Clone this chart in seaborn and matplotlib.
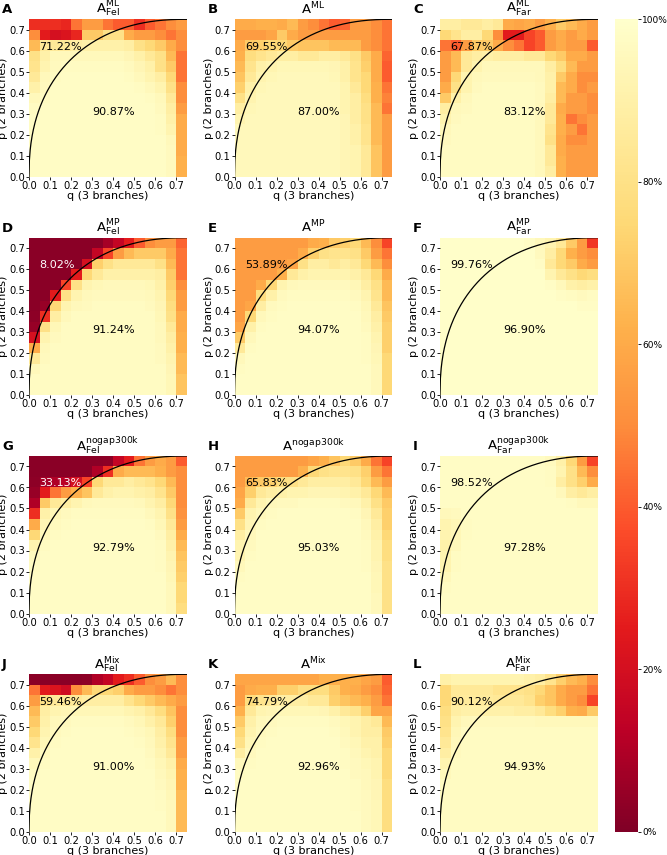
import numpy as np
import pandas as pd
import seaborn as sns
import matplotlib.pyplot as plt

plt.rcParams['mathtext.default'] = 'regular'
plt.rcParams['font.family'] = ['DejaVu Sans']

# accuracy (%) per cell, rows p = 0.70 (top) ... 0.00 (bottom), cols q = 0.00 ... 0.70
a_ml_fel = [
    [30, 30, 30, 28, 45, 55, 55, 45, 40, 40, 30, 40, 45, 50, 55],
    [50, 25, 20, 22, 28, 70, 70, 80, 80, 60, 55, 55, 50, 45, 50],
    [65, 85, 85, 85, 88, 90, 90, 90, 90, 88, 80, 75, 70, 60, 50],
    [80, 90, 95, 95, 95, 95, 95, 95, 95, 93, 90, 85, 80, 65, 45],
    [82, 92, 96, 97, 97, 97, 97, 97, 97, 96, 93, 90, 80, 70, 45],
    [85, 95, 97, 98, 98, 98, 98, 98, 98, 97, 95, 92, 88, 75, 45],
    [90, 96, 98, 98, 98, 98, 98, 98, 98, 98, 97, 95, 92, 80, 50],
    [95, 97, 98, 98, 98, 98, 98, 98, 98, 98, 98, 97, 95, 85, 50],
    [97, 98, 98, 98, 98, 98, 98, 98, 98, 98, 98, 98, 96, 88, 55],
    [98, 98, 98, 98, 98, 98, 98, 98, 98, 98, 98, 98, 97, 90, 60],
    [98, 98, 98, 98, 98, 98, 98, 98, 98, 98, 98, 98, 97, 92, 60],
    [98, 98, 98, 98, 98, 98, 98, 98, 98, 98, 98, 98, 98, 95, 60],
    [98, 98, 98, 98, 98, 98, 98, 98, 98, 98, 98, 98, 98, 96, 60],
    [98, 98, 98, 98, 98, 98, 98, 98, 98, 98, 98, 98, 98, 96, 62],
    [98, 98, 98, 98, 98, 98, 98, 98, 98, 98, 98, 98, 98, 96, 62],
]
a_ml = [
    [60, 60, 62, 62, 60, 65, 55, 50, 45, 40, 42, 55, 55, 50, 45],
    [55, 55, 55, 58, 70, 60, 55, 55, 55, 55, 55, 55, 55, 50, 45],
    [60, 70, 72, 75, 75, 70, 68, 68, 68, 65, 65, 65, 55, 50, 45],
    [62, 78, 82, 85, 88, 88, 85, 85, 88, 88, 85, 80, 70, 60, 42],
    [65, 82, 90, 92, 94, 94, 94, 94, 94, 93, 90, 82, 72, 60, 40],
    [68, 85, 92, 94, 95, 95, 95, 95, 95, 94, 90, 82, 75, 60, 40],
    [72, 90, 94, 95, 95, 95, 95, 95, 95, 95, 92, 85, 75, 62, 45],
    [80, 92, 95, 95, 95, 95, 95, 95, 95, 95, 92, 88, 78, 62, 48],
    [88, 94, 95, 95, 95, 95, 95, 95, 95, 95, 92, 88, 80, 65, 45],
    [92, 95, 95, 95, 95, 95, 95, 95, 95, 95, 93, 88, 80, 65, 55],
    [95, 95, 95, 95, 95, 95, 95, 95, 95, 95, 93, 90, 82, 65, 55],
    [95, 95, 95, 95, 95, 95, 95, 95, 95, 95, 93, 90, 82, 65, 55],
    [95, 95, 95, 95, 95, 95, 95, 95, 95, 95, 93, 92, 85, 68, 55],
    [95, 95, 95, 95, 95, 95, 95, 95, 95, 95, 93, 92, 85, 68, 55],
    [95, 95, 95, 95, 95, 95, 95, 95, 95, 95, 93, 92, 85, 68, 55],
]
a_ml_far = [
    [88, 88, 85, 85, 88, 85, 60, 58, 60, 55, 62, 70, 65, 60, 55],
    [75, 82, 88, 88, 75, 50, 25, 25, 35, 40, 55, 60, 55, 60, 55],
    [45, 40, 55, 70, 70, 60, 50, 45, 35, 40, 55, 60, 55, 55, 40],
    [55, 65, 85, 88, 90, 88, 88, 88, 85, 85, 75, 70, 60, 60, 55],
    [55, 65, 85, 92, 95, 95, 95, 95, 95, 95, 88, 78, 65, 55, 55],
    [55, 75, 92, 95, 96, 96, 96, 96, 96, 95, 90, 70, 60, 50, 50],
    [60, 80, 92, 96, 97, 97, 97, 97, 97, 96, 90, 65, 60, 50, 55],
    [70, 90, 95, 97, 97, 97, 97, 97, 97, 96, 88, 65, 55, 55, 50],
    [88, 95, 96, 97, 97, 97, 97, 97, 97, 95, 85, 60, 55, 55, 50],
    [92, 96, 97, 97, 97, 97, 97, 97, 97, 95, 85, 62, 45, 50, 55],
    [95, 97, 97, 97, 97, 97, 97, 97, 97, 95, 82, 62, 55, 45, 55],
    [96, 97, 97, 97, 97, 97, 97, 97, 97, 95, 80, 60, 50, 50, 55],
    [97, 97, 97, 97, 97, 97, 97, 97, 97, 95, 85, 60, 55, 55, 55],
    [97, 97, 97, 97, 97, 97, 97, 97, 97, 95, 85, 62, 55, 55, 55],
    [97, 97, 97, 97, 97, 97, 97, 97, 97, 95, 88, 62, 55, 55, 55],
]
a_mp_fel = [
    [2, 2, 2, 2, 2, 2, 2, 8, 15, 25, 40, 50, 55, 55, 42],
    [2, 2, 2, 2, 2, 2, 15, 35, 55, 65, 70, 70, 70, 60, 45],
    [2, 2, 2, 2, 2, 20, 72, 80, 85, 85, 85, 85, 80, 65, 45],
    [2, 2, 2, 2, 25, 75, 85, 90, 90, 90, 90, 90, 88, 70, 45],
    [2, 2, 2, 35, 80, 92, 94, 95, 95, 95, 95, 94, 90, 72, 50],
    [2, 2, 25, 80, 92, 95, 96, 96, 96, 96, 96, 95, 92, 75, 55],
    [2, 5, 75, 92, 95, 96, 97, 97, 97, 97, 97, 96, 93, 78, 55],
    [3, 30, 88, 95, 97, 97, 97, 97, 97, 97, 97, 97, 94, 80, 60],
    [5, 80, 94, 97, 97, 97, 97, 97, 97, 97, 97, 97, 95, 85, 60],
    [20, 92, 96, 97, 97, 97, 97, 97, 97, 97, 97, 97, 95, 88, 62],
    [60, 95, 97, 97, 97, 97, 97, 97, 97, 97, 97, 97, 96, 90, 62],
    [85, 96, 97, 97, 97, 97, 97, 97, 97, 97, 97, 97, 96, 92, 65],
    [95, 97, 97, 97, 97, 97, 97, 97, 97, 97, 97, 97, 97, 93, 65],
    [97, 97, 97, 97, 97, 97, 97, 97, 97, 97, 97, 97, 97, 94, 68],
    [97, 97, 97, 97, 97, 97, 97, 97, 97, 97, 97, 97, 97, 94, 68],
]
a_mp = [
    [55, 55, 55, 55, 55, 55, 55, 60, 62, 70, 72, 75, 65, 50, 35],
    [55, 55, 55, 55, 55, 55, 60, 72, 80, 82, 82, 80, 70, 55, 45],
    [55, 55, 55, 55, 55, 58, 80, 88, 88, 85, 88, 85, 75, 65, 50],
    [55, 55, 55, 55, 62, 85, 90, 92, 92, 92, 92, 90, 85, 75, 60],
    [55, 55, 60, 75, 92, 95, 96, 96, 96, 96, 96, 94, 88, 80, 65],
    [55, 55, 78, 90, 96, 97, 97, 97, 97, 97, 97, 96, 92, 82, 65],
    [55, 58, 88, 96, 97, 98, 98, 98, 98, 98, 98, 97, 94, 85, 68],
    [55, 75, 95, 97, 98, 98, 98, 98, 98, 98, 98, 98, 95, 88, 70],
    [58, 90, 97, 98, 98, 98, 98, 98, 98, 98, 98, 98, 96, 90, 72],
    [70, 95, 98, 98, 98, 98, 98, 98, 98, 98, 98, 98, 97, 92, 72],
    [85, 97, 98, 98, 98, 98, 98, 98, 98, 98, 98, 98, 97, 93, 72],
    [95, 98, 98, 98, 98, 98, 98, 98, 98, 98, 98, 98, 97, 94, 75],
    [97, 98, 98, 98, 98, 98, 98, 98, 98, 98, 98, 98, 98, 95, 75],
    [98, 98, 98, 98, 98, 98, 98, 98, 98, 98, 98, 98, 98, 95, 75],
    [98, 98, 98, 98, 98, 98, 98, 98, 98, 98, 98, 98, 98, 95, 75],
]
a_mp_far = [
    [99, 99, 99, 99, 99, 99, 99, 99, 98, 95, 92, 85, 70, 55, 32],
    [99, 99, 99, 99, 99, 99, 99, 99, 99, 96, 88, 75, 62, 55, 50],
    [99, 99, 99, 99, 99, 99, 99, 99, 99, 98, 85, 75, 70, 60, 55],
    [99, 99, 99, 99, 99, 99, 99, 99, 99, 99, 92, 85, 80, 75, 78],
    [99, 99, 99, 99, 99, 99, 99, 99, 99, 99, 98, 95, 90, 88, 90],
    [99, 99, 99, 99, 99, 99, 99, 99, 99, 99, 99, 98, 97, 96, 97],
    [99, 99, 99, 99, 99, 99, 99, 99, 99, 99, 99, 99, 99, 98, 98],
    [99, 99, 99, 99, 99, 99, 99, 99, 99, 99, 99, 99, 99, 99, 99],
    [99, 99, 99, 99, 99, 99, 99, 99, 99, 99, 99, 99, 99, 99, 99],
    [99, 99, 99, 99, 99, 99, 99, 99, 99, 99, 99, 99, 99, 99, 99],
    [99, 99, 99, 99, 99, 99, 99, 99, 99, 99, 99, 99, 99, 99, 99],
    [99, 99, 99, 99, 99, 99, 99, 99, 99, 99, 99, 99, 99, 99, 99],
    [99, 99, 99, 99, 99, 99, 99, 99, 99, 99, 99, 99, 99, 99, 99],
    [99, 99, 99, 99, 99, 99, 99, 99, 99, 99, 99, 99, 99, 99, 99],
    [99, 99, 99, 99, 99, 99, 99, 99, 99, 99, 99, 99, 99, 99, 99],
]
a_ng_fel = [
    [2, 2, 2, 2, 2, 2, 2, 3, 15, 25, 45, 55, 60, 55, 40],
    [2, 2, 2, 2, 2, 2, 10, 30, 60, 65, 65, 65, 62, 55, 50],
    [3, 8, 10, 12, 20, 35, 75, 85, 85, 88, 85, 82, 75, 65, 50],
    [5, 25, 45, 55, 62, 68, 85, 90, 92, 92, 90, 88, 82, 70, 50],
    [10, 70, 85, 88, 92, 95, 96, 96, 96, 96, 95, 92, 88, 75, 50],
    [30, 90, 94, 96, 97, 97, 97, 97, 97, 97, 97, 95, 92, 80, 52],
    [60, 93, 96, 97, 98, 98, 98, 98, 98, 98, 98, 97, 94, 85, 55],
    [75, 95, 97, 98, 98, 98, 98, 98, 98, 98, 98, 98, 96, 88, 60],
    [92, 97, 98, 98, 98, 98, 98, 98, 98, 98, 98, 98, 97, 90, 65],
    [96, 98, 98, 98, 98, 98, 98, 98, 98, 98, 98, 98, 97, 92, 68],
    [97, 98, 98, 98, 98, 98, 98, 98, 98, 98, 98, 98, 97, 93, 70],
    [98, 98, 98, 98, 98, 98, 98, 98, 98, 98, 98, 98, 98, 94, 72],
    [98, 98, 98, 98, 98, 98, 98, 98, 98, 98, 98, 98, 98, 95, 75],
    [98, 98, 98, 98, 98, 98, 98, 98, 98, 98, 98, 98, 98, 95, 75],
    [98, 98, 98, 98, 98, 98, 98, 98, 98, 98, 98, 98, 98, 95, 78],
]
a_ng = [
    [55, 55, 55, 55, 55, 55, 55, 58, 62, 68, 75, 70, 60, 45, 35],
    [55, 55, 55, 55, 55, 55, 62, 75, 80, 82, 82, 80, 72, 55, 45],
    [55, 65, 70, 72, 78, 80, 85, 88, 88, 88, 88, 85, 75, 65, 55],
    [58, 72, 85, 88, 90, 92, 92, 93, 93, 93, 92, 90, 85, 75, 65],
    [60, 85, 92, 95, 96, 96, 97, 97, 97, 97, 96, 95, 90, 80, 70],
    [70, 92, 95, 97, 98, 98, 98, 98, 98, 98, 98, 97, 93, 85, 72],
    [80, 93, 97, 98, 98, 98, 98, 98, 98, 98, 98, 98, 95, 88, 72],
    [88, 95, 98, 98, 98, 98, 98, 98, 98, 98, 98, 98, 96, 90, 75],
    [92, 96, 98, 98, 98, 98, 98, 98, 98, 98, 98, 98, 97, 92, 78],
    [92, 97, 98, 98, 98, 98, 98, 98, 98, 98, 98, 98, 97, 92, 78],
    [95, 98, 98, 98, 98, 98, 98, 98, 98, 98, 98, 98, 97, 93, 80],
    [97, 98, 98, 98, 98, 98, 98, 98, 98, 98, 98, 98, 98, 94, 80],
    [98, 98, 98, 98, 98, 98, 98, 98, 98, 98, 98, 98, 98, 94, 80],
    [98, 98, 98, 98, 98, 98, 98, 98, 98, 98, 98, 98, 98, 95, 80],
    [98, 98, 98, 98, 98, 98, 98, 98, 98, 98, 98, 98, 98, 95, 80],
]
a_ng_far = [
    [98, 98, 98, 98, 98, 98, 98, 98, 98, 98, 96, 90, 75, 55, 35],
    [98, 98, 98, 98, 98, 98, 98, 98, 98, 98, 97, 92, 80, 65, 50],
    [98, 98, 98, 98, 98, 98, 98, 98, 98, 98, 97, 88, 80, 72, 60],
    [98, 98, 98, 98, 98, 98, 98, 98, 98, 98, 98, 95, 88, 85, 88],
    [98, 98, 98, 98, 98, 98, 98, 98, 98, 98, 98, 98, 97, 95, 95],
    [95, 96, 98, 98, 98, 98, 98, 98, 98, 98, 98, 98, 98, 98, 98],
    [92, 94, 97, 98, 98, 98, 98, 98, 98, 98, 98, 98, 98, 98, 98],
    [92, 94, 97, 98, 98, 98, 98, 98, 98, 98, 98, 98, 98, 98, 98],
    [90, 95, 98, 98, 98, 98, 98, 98, 98, 98, 98, 98, 98, 98, 98],
    [92, 97, 98, 98, 98, 98, 98, 98, 98, 98, 98, 98, 98, 98, 98],
    [92, 97, 98, 98, 98, 98, 98, 98, 98, 98, 98, 98, 98, 98, 98],
    [95, 98, 98, 98, 98, 98, 98, 98, 98, 98, 98, 98, 98, 98, 98],
    [97, 98, 98, 98, 98, 98, 98, 98, 98, 98, 98, 98, 98, 98, 98],
    [98, 98, 98, 98, 98, 98, 98, 98, 98, 98, 98, 98, 98, 98, 98],
    [98, 98, 98, 98, 98, 98, 98, 98, 98, 98, 98, 98, 98, 98, 98],
]
a_mix_fel = [
    [2, 2, 2, 2, 2, 3, 10, 15, 25, 30, 40, 50, 55, 65, 50],
    [45, 25, 22, 18, 50, 65, 75, 75, 72, 60, 55, 55, 50, 45, 50],
    [55, 80, 85, 85, 85, 88, 88, 88, 88, 82, 75, 70, 65, 60, 55],
    [65, 88, 92, 93, 94, 94, 94, 94, 94, 92, 90, 85, 78, 68, 50],
    [70, 90, 95, 96, 97, 97, 97, 97, 97, 96, 94, 90, 85, 72, 50],
    [75, 92, 96, 97, 98, 98, 98, 98, 98, 97, 96, 94, 88, 78, 50],
    [82, 94, 97, 98, 98, 98, 98, 98, 98, 98, 97, 95, 90, 82, 55],
    [90, 96, 98, 98, 98, 98, 98, 98, 98, 98, 98, 96, 92, 85, 55],
    [95, 97, 98, 98, 98, 98, 98, 98, 98, 98, 98, 97, 94, 90, 60],
    [97, 98, 98, 98, 98, 98, 98, 98, 98, 98, 98, 98, 95, 92, 62],
    [98, 98, 98, 98, 98, 98, 98, 98, 98, 98, 98, 98, 96, 93, 62],
    [98, 98, 98, 98, 98, 98, 98, 98, 98, 98, 98, 98, 97, 94, 65],
    [98, 98, 98, 98, 98, 98, 98, 98, 98, 98, 98, 98, 97, 95, 65],
    [98, 98, 98, 98, 98, 98, 98, 98, 98, 98, 98, 98, 98, 95, 65],
    [98, 98, 98, 98, 98, 98, 98, 98, 98, 98, 98, 98, 98, 95, 65],
]
a_mix = [
    [58, 58, 58, 58, 58, 58, 58, 58, 62, 62, 62, 62, 58, 55, 40],
    [55, 60, 62, 62, 72, 72, 78, 78, 78, 70, 62, 60, 55, 50, 42],
    [55, 78, 82, 85, 88, 88, 88, 85, 85, 72, 68, 65, 62, 55, 45],
    [62, 85, 92, 93, 94, 94, 94, 94, 93, 90, 85, 82, 72, 58, 58],
    [70, 90, 95, 96, 97, 97, 97, 97, 97, 96, 94, 92, 88, 85, 65],
    [75, 92, 96, 97, 98, 98, 98, 98, 98, 97, 95, 92, 88, 88, 70],
    [80, 94, 97, 98, 98, 98, 98, 98, 98, 98, 96, 94, 90, 90, 72],
    [88, 96, 98, 98, 98, 98, 98, 98, 98, 98, 97, 95, 92, 90, 75],
    [95, 97, 98, 98, 98, 98, 98, 98, 98, 98, 97, 96, 94, 92, 75],
    [97, 98, 98, 98, 98, 98, 98, 98, 98, 98, 98, 96, 95, 92, 75],
    [98, 98, 98, 98, 98, 98, 98, 98, 98, 98, 98, 97, 95, 93, 78],
    [98, 98, 98, 98, 98, 98, 98, 98, 98, 98, 98, 97, 96, 93, 78],
    [98, 98, 98, 98, 98, 98, 98, 98, 98, 98, 98, 97, 96, 94, 78],
    [98, 98, 98, 98, 98, 98, 98, 98, 98, 98, 98, 98, 96, 94, 78],
    [98, 98, 98, 98, 98, 98, 98, 98, 98, 98, 98, 98, 96, 94, 78],
]
a_mix_far = [
    [90, 92, 92, 92, 92, 92, 92, 92, 90, 88, 82, 72, 65, 62, 50],
    [75, 85, 85, 85, 85, 82, 82, 82, 80, 75, 68, 60, 55, 55, 45],
    [75, 85, 86, 86, 86, 85, 85, 85, 82, 72, 68, 60, 55, 50, 35],
    [78, 88, 90, 90, 90, 90, 90, 88, 88, 85, 78, 72, 62, 60, 70],
    [80, 92, 95, 96, 96, 96, 96, 96, 96, 95, 95, 95, 95, 95, 95],
    [82, 94, 97, 97, 97, 97, 97, 97, 97, 97, 97, 97, 97, 97, 97],
    [85, 95, 97, 97, 97, 97, 97, 97, 97, 97, 97, 97, 97, 97, 97],
    [88, 96, 97, 97, 97, 97, 97, 97, 97, 97, 97, 97, 97, 97, 97],
    [92, 97, 97, 97, 97, 97, 97, 97, 97, 97, 97, 97, 97, 97, 97],
    [95, 97, 97, 97, 97, 97, 97, 97, 97, 97, 97, 97, 97, 97, 97],
    [97, 97, 97, 97, 97, 97, 97, 97, 97, 97, 97, 97, 97, 97, 97],
    [97, 97, 97, 97, 97, 97, 97, 97, 97, 97, 97, 97, 97, 97, 97],
    [97, 97, 97, 97, 97, 97, 97, 97, 97, 97, 97, 97, 97, 97, 97],
    [97, 97, 97, 97, 97, 97, 97, 97, 97, 97, 97, 97, 97, 97, 97],
    [97, 97, 97, 97, 97, 97, 97, 97, 97, 97, 97, 97, 97, 97, 97],
]

panels = [a_ml_fel, a_ml, a_ml_far, a_mp_fel, a_mp, a_mp_far,
          a_ng_fel, a_ng, a_ng_far, a_mix_fel, a_mix, a_mix_far]
letters = list('ABCDEFGHIJKL')
titles = [r'$A^{ML}_{Fel}$', r'$A^{ML}$', r'$A^{ML}_{Far}$',
          r'$A^{MP}_{Fel}$', r'$A^{MP}$', r'$A^{MP}_{Far}$',
          r'$A^{nogap300k}_{Fel}$', r'$A^{nogap300k}$', r'$A^{nogap300k}_{Far}$',
          r'$A^{Mix}_{Fel}$', r'$A^{Mix}$', r'$A^{Mix}_{Far}$']
upper_pct = ['71.22%', '69.55%', '67.87%', '8.02%', '53.89%', '99.76%',
             '33.13%', '65.83%', '98.52%', '59.46%', '74.79%', '90.12%']
lower_pct = ['90.87%', '87.00%', '83.12%', '91.24%', '94.07%', '96.90%',
             '92.79%', '95.03%', '97.28%', '91.00%', '92.96%', '94.93%']
white_text = ['D', 'G']

q_vals = np.round(np.arange(0, 0.75, 0.05), 2)
p_vals = q_vals[::-1]
tick_vals = [0.0, 0.1, 0.2, 0.3, 0.4, 0.5, 0.6, 0.7]

W, H = 667, 855
fig = plt.figure(figsize=(W / 100, H / 100), dpi=100)

lefts = [29, 234.5, 440]
tops = [19.3, 237.7, 456, 674.3]
size = 157.5

cax = fig.add_axes([615 / W, 1 - 831.7 / H, 22.5 / W, (831.7 - 19.3) / H])

# boundary curve between the two zones
qc = np.linspace(0, 0.75, 400)
pc = 0.75 * (1 - (1 - qc / 0.75) ** 2.3) ** (1 / 2.3)

first_ax = None
for k, data in enumerate(panels):
    r, c = divmod(k, 3)
    ax = fig.add_axes([lefts[c] / W, 1 - (tops[r] + size) / H, size / W, size / H])
    if first_ax is None:
        first_ax = ax
    df = pd.DataFrame(data, index=p_vals, columns=q_vals)
    sns.heatmap(df, ax=ax, cmap='YlOrRd_r', vmin=0, vmax=100,
                cbar=(k == 0), cbar_ax=cax if k == 0 else None,
                xticklabels=False, yticklabels=False)
    ax.plot(qc * 20, 15 - pc * 20, color='black', lw=0.9)
    ax.set_xlim(0, 15)
    ax.set_ylim(15, 0)
    ax.set_xticks([v * 20 for v in tick_vals])
    ax.set_xticklabels([f'{v:.1f}' for v in tick_vals], rotation=0)
    ax.set_yticks([15 - v * 20 for v in tick_vals])
    ax.set_yticklabels([f'{v:.1f}' for v in tick_vals], rotation=0)
    ax.tick_params(labelsize=7.2, length=2, width=0.6, pad=1)
    ax.set_xlabel('q (3 branches)', fontsize=8, labelpad=0)
    ax.set_ylabel('p (2 branches)', fontsize=8, labelpad=0.5)
    has_sub = '_' in titles[k]
    ax.set_title(titles[k], fontsize=9.5, pad=0.4 if has_sub else 3.6)
    col = 'white' if letters[k] in white_text else 'black'
    ax.text(0.05 * 20, 15 - 0.62 * 20, upper_pct[k], color=col, fontsize=8,
            ha='left', va='center')
    ax.text(0.30 * 20, 15 - 0.31 * 20, lower_pct[k], color='black', fontsize=8,
            ha='left', va='center')
    fig.text((lefts[c] - 27) / W, 1 - (tops[r] - 6) / H, letters[k],
             fontsize=9.5, fontweight='bold', ha='left', va='baseline')

cb = first_ax.collections[0].colorbar
cb.set_ticks([0, 20, 40, 60, 80, 100])
cb.set_ticklabels(['0%', '20%', '40%', '60%', '80%', '100%'])
cb.ax.tick_params(labelsize=6.5, length=2, width=0.6, pad=1.5)
cb.outline.set_visible(False)

fig.savefig('out.png', dpi=100)
